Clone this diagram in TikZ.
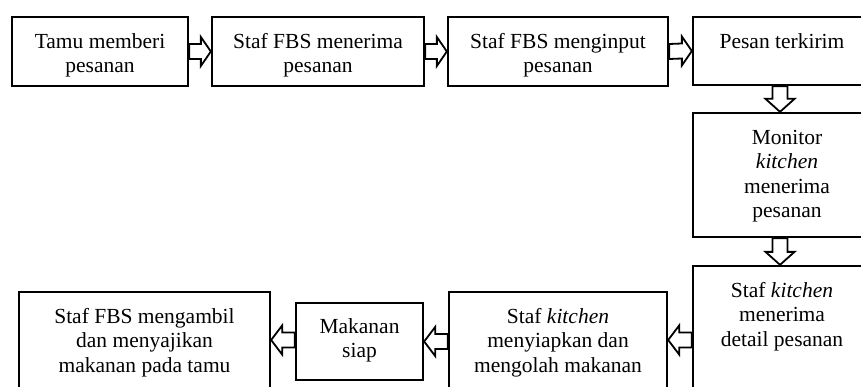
\documentclass[tikz,border=0pt]{standalone}
\usepackage{fontspec}
\setmainfont{Liberation Serif}
\usetikzlibrary{calc}
\newcommand\fl{\rule{0pt}{15pt}}
\newcommand\blockarr[3]{% #1 start, #2 end, #3 head length
  \draw[barrow] let \p1=(#1), \p2=(#2) in
  \ifdim\x1=\x2
    let \n1={((\y2>\y1)*2-1)} in
    (\x1-7.5,\y1) -- (\x2-7.5,\y2-\n1*#3) -- (\x2-14.5,\y2-\n1*#3) -- (\x2,\y2)
    -- (\x2+14.5,\y2-\n1*#3) -- (\x2+7.5,\y2-\n1*#3) -- (\x1+7.5,\y1) -- cycle
  \else
    let \n1={((\x2>\x1)*2-1)} in
    (\x1,\y1+7.5) -- (\x2-\n1*#3,\y2+7.5) -- (\x2-\n1*#3,\y2+14.5) -- (\x2,\y2)
    -- (\x2-\n1*#3,\y2-14.5) -- (\x2-\n1*#3,\y2-7.5) -- (\x1,\y1-7.5) -- cycle
  \fi;}
\begin{document}
\begin{tikzpicture}[x=1pt,y=-1pt,
  box/.style={draw=black, line width=2.3pt, fill=white, inner sep=0pt},
  lab/.style={anchor=north, inner sep=0pt, align=center, yshift=-17pt,
    font=\fontsize{21.5}{24.5}\selectfont},
  barrow/.style={draw=black, fill=white, line width=1.8pt, line join=miter}]
\useasboundingbox (0,0) rectangle (861,387);
\clip (0,0) rectangle (861,387);
% top row
\node[box, minimum width=176pt, minimum height=69pt,
  label={[lab]north:{\fl Tamu memberi\\pesanan}}] (b1) at (100,51.5) {};
\node[box, minimum width=212pt, minimum height=69pt,
  label={[lab]north:{\fl Staf FBS menerima\\pesanan}}] (b2) at (318,51.5) {};
\node[box, minimum width=220pt, minimum height=69pt,
  label={[lab]north:{\fl Staf FBS menginput\\pesanan}}] (b3) at (558,51.5) {};
\node[box, minimum width=178pt, minimum height=68pt,
  label={[lab]north:{\fl Pesan terkirim}}] (b4) at (782,51) {};
% right column
\node[box, minimum width=188pt, minimum height=124pt,
  label={[lab]north:{\fl Monitor\\\textit{kitchen}\\menerima\\pesanan}}] (b5) at (787,175) {};
\node[box, minimum width=178pt, minimum height=144pt,
  label={[lab]north:{\fl Staf \textit{kitchen}\\menerima\\detail pesanan}}] (b6) at (782,338) {};
% bottom row
\node[box, minimum width=218pt, minimum height=96pt,
  label={[lab]north:{\fl Staf \textit{kitchen}\\menyiapkan dan\\mengolah makanan}}] (b7) at (558,340) {};
\node[box, minimum width=127pt, minimum height=77pt,
  label={[lab,yshift=1pt]north:{\fl Makanan\\siap}}] (b8) at (359.5,341.5) {};
\node[box, minimum width=251pt, minimum height=96pt,
  label={[lab]north:{\fl Staf FBS mengambil\\dan menyajikan\\makanan pada tamu}}] (b9) at (144.5,340) {};
\coordinate (ax) at (780,0);
% connectors
\blockarr{b1.east}{b2.west}{10}
\blockarr{b2.east}{b3.west}{10}
\blockarr{b3.east}{b4.west}{10}
\blockarr{b4.south -| ax}{b5.north -| ax}{13}
\blockarr{b5.south -| ax}{b6.north -| ax}{13}
\blockarr{b6.west |- b7.east}{b7.east}{11}
\blockarr{b7.west |- b8.east}{b8.east}{11}
\blockarr{b8.west |- b9.east}{b9.east}{11}
\end{tikzpicture}
\end{document}
